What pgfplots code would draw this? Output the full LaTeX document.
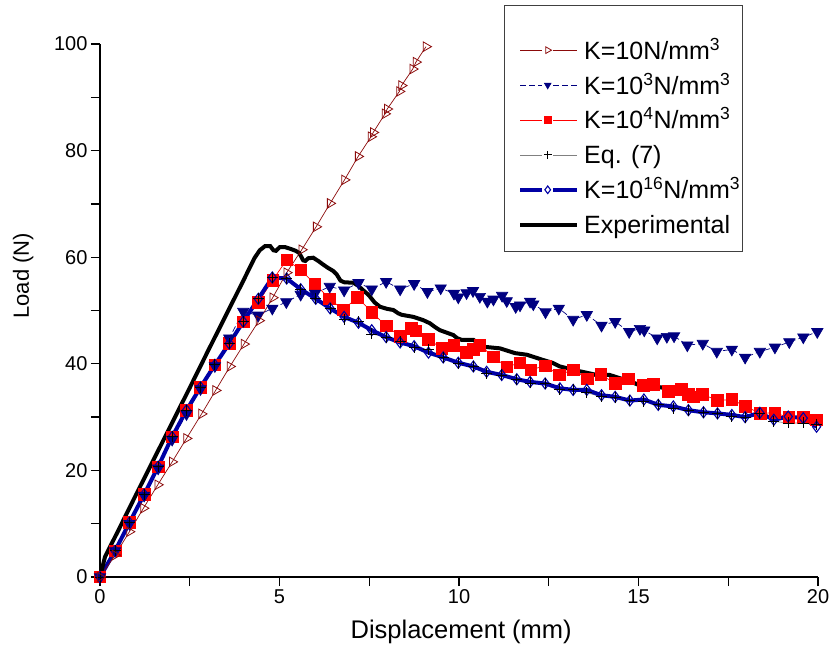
\documentclass[border=0pt]{standalone}
\usepackage{pgfplots}
\usepackage{pgfplotstable}
\pgfplotsset{compat=1.18}
\usepackage{fontspec}
\setmainfont{Liberation Sans}
\definecolor{kbrown}{RGB}{139,10,10}
\definecolor{knavy}{RGB}{0,0,128}
\definecolor{kblue}{RGB}{0,0,165}
\pgfplotsset{
  k10style/.style={color=kbrown, line width=0.7pt, mark=triangle, mark size=5.5pt, mark options={rotate=-90, fill=white, solid, line width=0.8pt}},
  k3style/.style={color=knavy, line width=0.7pt, dash pattern=on 6pt off 3pt, mark=triangle*, mark size=6.5pt, mark options={rotate=180, solid, fill=knavy}},
  k4style/.style={color=red, line width=0.7pt, mark=square*, mark size=5.8pt, mark options={fill=red, solid}},
  eqstyle/.style={color=gray, line width=0.7pt, mark=+, mark size=5.5pt, mark options={black, line width=0.9pt, solid}},
  k16style/.style={color=kblue, line width=4pt, mark=diamond, mark size=5.5pt, mark options={fill=white, line width=1.1pt, solid}},
  expstyle/.style={color=black, line width=4pt},
  oseg/.style={legend image code/.code={
      \draw[##1,mark=none] (0pt,0pt) -- (22pt,0pt);
      \draw[##1,mark=none] (33pt,0pt) -- (57pt,0pt);
      \draw[##1,only marks,mark size=3.8pt] plot coordinates {(27.5pt,0pt)};
  }},
  lseg/.style={legend image code/.code={
      \draw[##1] (0pt,0pt) -- (57pt,0pt);
  }},
}
\pgfplotstableread{
x y
0 0
0.42 4.9
0.82 10.2
1.23 15.5
1.62 20.7
2.01 26.3
2.41 31.3
2.80 35.6
3.20 39.8
3.60 43.8
3.99 47.9
4.41 52.2
4.80 56.2
5.20 56.0
5.59 54.0
6.01 52.2
6.41 50.4
6.80 48.4
7.20 47.9
7.57 45.6
7.97 45.0
8.36 44.2
8.75 43.0
9.15 42.6
9.56 41.2
9.98 40.0
10.40 39.5
10.77 38.2
11.19 37.9
11.61 37.1
11.98 36.4
12.40 36.3
12.81 35.2
13.18 35.1
13.56 34.6
13.97 33.8
14.35 33.6
14.76 33.1
15.15 33.0
15.55 32.3
15.97 31.7
16.39 31.3
16.81 30.9
17.20 30.7
17.60 30.2
17.97 30.0
18.38 30.6
18.77 29.2
19.17 28.9
19.59 28.9
19.96 28.7
}\eqseven
\begin{document}
\begin{tikzpicture}
\useasboundingbox (-100pt,-89pt) rectangle (734pt,577pt);
\begin{axis}[
  at={(0,0)}, anchor=south west,
  scale only axis, width=718pt, height=533pt,
  xmin=0, xmax=20, ymin=0, ymax=100,
  axis lines=left, axis line style={-, line width=1.3pt},
  xtick={0,5,10,15,20}, ytick={0,20,40,60,80,100},
  minor xtick={2.5,7.5,12.5,17.5}, minor ytick={10,30,50,70,90},
  tick align=outside, major tick length=9pt, minor tick length=9pt,
  every tick/.style={line width=1.3pt, black},
  tick label style={font=\fontsize{20}{24}\selectfont},
  /pgf/number format/assume math mode=true,
  xlabel={Displacement (mm)}, ylabel={Load (N)},
  xlabel style={font=\fontsize{25.5}{30}\selectfont, at={(axis description cs:0.503,-0.103)}, anchor=center},
  ylabel style={font=\fontsize{22}{26}\selectfont, at={(axis description cs:-0.107,0.565)}, anchor=center},
  clip=false,
  legend cell align=left,
  legend style={draw=none, fill=none, inner sep=0pt, at={(0.5822,1.0113)}, anchor=north west,
    font=\fontsize{25}{30}\selectfont, row sep=10.9pt, column sep=5pt,
    nodes={inner sep=0pt, text height=21pt, text depth=3pt}},
]
% K=10^4
\addplot[k4style, forget plot] coordinates {
(0,0)(0.42,4.9)(0.82,10.2)(1.23,15.5)(1.62,20.7)(2.01,26.3)(2.41,31.3)(2.80,35.6)(3.20,39.8)(3.60,43.8)(3.99,47.9)(4.41,51.5)(4.81,55.7)(5.20,59.5)(5.59,57.6)(5.99,55.0)(6.39,52.2)(6.78,50.1)(7.17,52.5)(7.57,49.7)(7.97,47.1)(8.36,45.2)(8.68,46.7)(8.80,46.2)(9.15,44.6)(9.52,42.9)(9.86,43.5)(10.20,42.1)(10.40,42.7)(10.58,43.5)(10.96,41.3)(11.33,39.4)(11.70,40.2)(12.00,38.9)(12.40,39.6)(12.79,37.9)(13.18,38.9)(13.57,37.2)(13.95,38.0)(14.35,36.3)(14.72,37.2)(15.13,36.0)(15.41,36.1)(15.83,34.8)(16.20,35.2)(16.38,34.3)(16.53,33.8)(16.78,34.3)(17.20,33.1)(17.60,33.3)(17.98,32.0)(18.39,30.7)(18.80,30.8)(19.19,29.9)(19.59,29.9)(19.96,29.5)
};
% K=10^3
\addplot[k3style, forget plot] coordinates {
(0,0)(0.42,4.9)(0.82,10.0)(1.23,15.3)(1.62,20.4)(2.01,25.8)(2.41,30.6)(2.80,35.3)(3.20,39.6)(3.60,44.8)(3.99,49.8)(4.40,49.1)(4.80,50.4)(5.19,51.6)(5.59,53.0)(5.99,53.2)(6.40,54.5)(6.80,53.8)(7.20,55.2)(7.57,54.0)(7.97,55.4)(8.36,54.0)(8.75,55.0)(9.12,53.5)(9.49,54.2)(9.86,53.2)(9.98,52.5)(10.21,53.3)(10.39,53.7)(10.58,52.6)(10.79,51.7)(10.96,52.1)(11.20,52.8)(11.33,51.8)(11.58,50.7)(11.70,51.0)(11.98,51.7)(12.07,51.2)(12.41,49.7)(12.78,50.4)(13.18,48.3)(13.56,49.2)(13.97,47.2)(14.35,47.9)(14.74,46.0)(15.04,46.6)(15.16,46.3)(15.52,44.8)(15.79,45.1)(15.99,45.2)(16.36,43.5)(16.79,43.8)(17.18,42.3)(17.60,42.7)(17.97,41.2)(18.38,42.3)(18.80,43.1)(19.20,44.1)(19.59,45.0)(19.98,46.0)
};
% Eq. (7) line
\addplot[eqstyle, mark=none, forget plot] table {\eqseven};
% K=10^16
\addplot[k16style, forget plot] coordinates {
(0,0)(0.42,4.9)(0.82,10.2)(1.23,15.5)(1.62,20.7)(2.01,26.3)(2.41,31.3)(2.80,35.6)(3.20,39.8)(3.60,43.8)(3.99,47.9)(4.41,52.2)(4.80,56.2)(5.20,56.0)(5.59,54.0)(6.01,52.2)(6.41,50.4)(6.80,48.8)(7.20,47.7)(7.57,46.3)(7.97,45.0)(8.36,44.0)(8.75,43.3)(9.15,42.1)(9.56,41.2)(9.98,40.2)(10.40,39.5)(10.77,38.5)(11.19,37.9)(11.61,37.1)(11.98,36.6)(12.40,36.3)(12.81,35.4)(13.18,35.1)(13.56,35.1)(13.97,34.1)(14.35,33.8)(14.76,33.1)(15.15,33.3)(15.55,32.3)(15.97,32.0)(16.39,31.3)(16.81,30.9)(17.20,30.7)(17.60,30.4)(17.97,30.0)(18.38,30.8)(18.77,29.5)(19.17,30.1)(19.59,29.8)(19.96,28.2)
};
% Eq. (7) marks
\addplot[eqstyle, only marks, forget plot] table {\eqseven};
% K=10
\addplot[k10style, forget plot] coordinates {
(0,0)(0.42,4.1)(0.82,8.5)(1.21,12.9)(1.61,17.3)(2.01,21.6)(2.41,26.0)(2.83,30.6)(3.22,35.0)(3.62,39.5)(4.01,43.7)(4.43,48.1)(4.81,52.4)(5.20,57.1)(5.62,61.4)(6.02,65.7)(6.41,70.1)(6.81,74.5)(7.19,78.9)(7.55,82.6)(7.61,83.4)(7.94,86.9)(8.00,87.8)(8.34,91.1)(8.40,92.2)(8.71,95.3)(8.80,96.6)(9.08,99.5)
};
% Experimental
\addplot[expstyle, forget plot] coordinates {
(0,0)(0.14,3.8)(0.5,8.6)(1.0,15.4)(1.5,22.1)(2.0,28.8)(2.5,35.5)(3.0,42.3)(3.5,49.0)(4.0,55.7)(4.3,59.8)(4.45,61.3)(4.6,62.1)(4.74,62.1)(4.83,61.3)(4.9,61.2)(5.01,61.9)(5.15,61.9)(5.29,61.6)(5.45,61.2)(5.55,60.8)(5.66,59.4)(5.72,59.3)(5.80,59.8)(5.94,59.9)(6.1,59.2)(6.22,58.6)(6.35,58.0)(6.5,57.4)(6.59,56.8)(6.7,55.6)(6.8,55.3)(7.06,55.2)(7.2,54.6)(7.33,53.8)(7.45,53.1)(7.52,52.6)(7.65,51.5)(7.80,50.7)(8.0,50.3)(8.17,50.1)(8.3,49.5)(8.40,49.2)(8.73,48.8)(9.0,48.2)(9.19,47.6)(9.35,46.8)(9.47,46.3)(9.84,45.4)(9.95,44.8)(10.07,44.5)(10.4,44.5)(10.55,43.8)(10.68,43.2)(11.14,42.9)(11.56,42.0)(11.89,41.7)(12.35,40.7)(12.6,40.2)(12.81,39.5)(13.23,38.8)(13.84,37.9)(14.2,37.9)(14.48,37.3)(14.8,36.6)(15.09,35.8)(15.41,35.8)(15.79,35.4)(16.2,35.1)
};
\addlegendimage{k10style, oseg}
\addlegendentry{K=10N/mm\textsuperscript{3}}
\addlegendimage{k3style, oseg}
\addlegendentry{K=10\textsuperscript{3}N/mm\textsuperscript{3}}
\addlegendimage{k4style, oseg}
\addlegendentry{K=10\textsuperscript{4}N/mm\textsuperscript{3}}
\addlegendimage{eqstyle, oseg}
\addlegendentry{Eq. (7)}
\addlegendimage{k16style, oseg}
\addlegendentry{K=10\textsuperscript{16}N/mm\textsuperscript{3}}
\addlegendimage{expstyle, lseg}
\addlegendentry{Experimental}
\draw[line width=1pt, black!75] (rel axis cs:0.5627,1.0713) rectangle (rel axis cs:0.8955,0.6116);
\end{axis}
\end{tikzpicture}
\end{document}
